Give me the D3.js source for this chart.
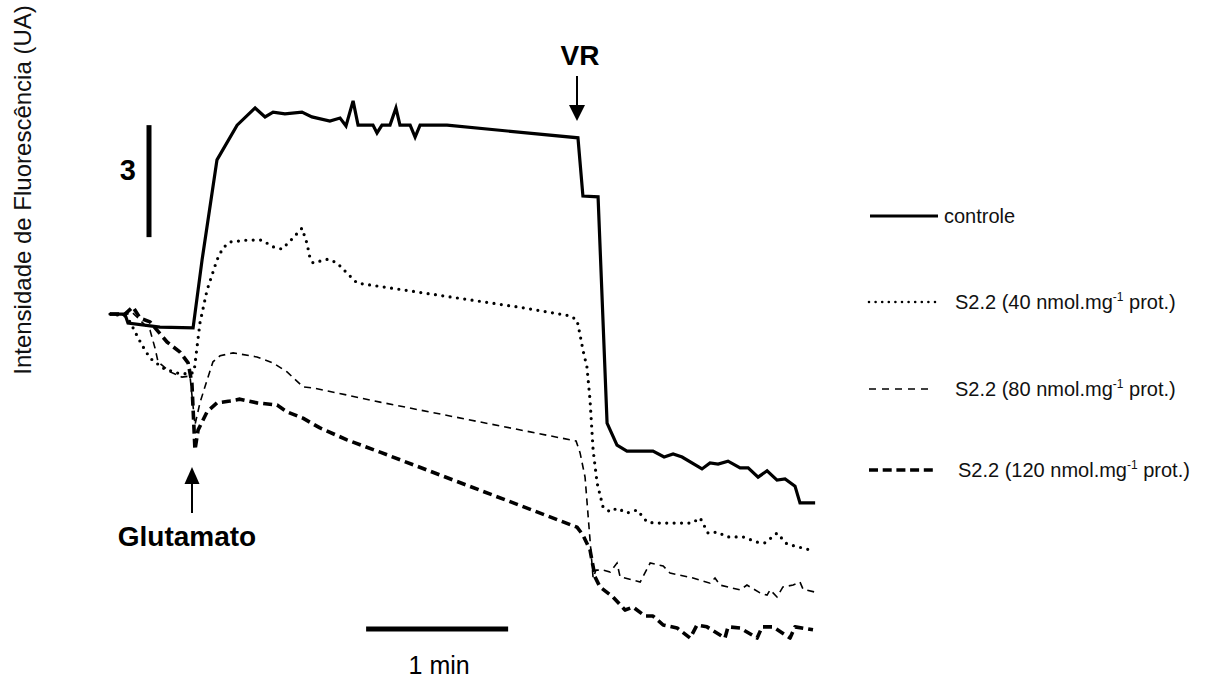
<!DOCTYPE html>
<html>
<head>
<meta charset="utf-8">
<script src="https://cdn.jsdelivr.net/npm/d3@7"></script>
<style>
  html, body { margin: 0; padding: 0; background: #fff; }
  svg { display: block; font-family: "Liberation Sans", Arial, sans-serif; }
</style>
</head>
<body>
<svg id="chart" width="1219" height="681"></svg>
<script>
// Time in seconds, fluorescence in arbitrary units (UA)
const controleT = [0, 6.3, 7.6, 21.1, 35.1, 38.9, 45.2, 53.7, 61.3, 65.5, 68.9, 73.9, 81.1, 85.3, 92.9, 97.2, 99.7, 102.7, 104.8, 111.1, 112.8, 114.9, 118.3, 120.8, 122.5, 126.8, 128.9, 131.0, 142.4, 197.7, 199.8, 206.2, 210.0, 214.2, 218.4, 229.4, 234.1, 237.9, 241.7, 250.1, 253.5, 256.9, 261.1, 266.2, 269.6, 273.8, 277.6, 281.8, 285.2, 289.4, 291.5, 297.9];
const controleV = [9.00, 9.00, 8.76, 8.65, 8.63, 10.45, 13.13, 14.06, 14.52, 14.28, 14.41, 14.36, 14.41, 14.28, 14.17, 14.25, 14.04, 14.71, 14.06, 14.06, 13.85, 14.06, 14.06, 14.52, 14.06, 14.06, 13.74, 14.06, 14.06, 13.72, 12.16, 12.14, 6.08, 5.49, 5.33, 5.33, 5.17, 5.25, 5.17, 4.85, 5.01, 4.98, 5.06, 4.88, 4.88, 4.63, 4.80, 4.55, 4.58, 4.39, 3.94, 3.94];

const s40T = [0, 6.3, 8.5, 10.6, 13.5, 16.9, 22.4, 28.3, 33.8, 35.5, 38.0, 41.0, 45.2, 47.7, 50.7, 57.9, 64.2, 68.9, 72.7, 76.9, 81.1, 83.2, 84.5, 85.8, 92.1, 95.9, 100.1, 104.4, 175.3, 194.4, 197.3, 198.6, 199.8, 201.5, 202.8, 204.1, 205.8, 208.3, 211.3, 214.2, 218.4, 222.7, 226.9, 230.3, 245.9, 249.3, 252.7, 256.5, 260.7, 267.4, 273.4, 276.7, 281.8, 286.0, 295.8];
const s40V = [9.00, 8.95, 8.79, 8.52, 8.17, 7.82, 7.55, 7.42, 7.39, 7.45, 8.76, 9.64, 10.45, 10.77, 10.93, 10.98, 10.98, 10.80, 10.74, 11.01, 11.30, 10.90, 10.50, 10.37, 10.47, 10.37, 10.10, 9.83, 9.16, 8.95, 8.84, 8.44, 8.04, 7.58, 6.70, 5.36, 4.47, 3.83, 3.70, 3.80, 3.67, 3.75, 3.43, 3.40, 3.40, 3.54, 3.13, 3.16, 3.03, 3.03, 2.89, 2.87, 3.13, 2.84, 2.68];

const s80T = [0, 6.3, 9.3, 16.9, 19.0, 20.3, 25.4, 30.4, 33.8, 35.9, 38.0, 41.0, 43.5, 46.5, 52.0, 62.1, 68.9, 74.8, 81.5, 85.8, 100.1, 114.1, 194.4, 196.9, 198.6, 200.7, 202.8, 204.1, 205.3, 208.3, 211.3, 214.2, 215.5, 224.0, 228.2, 233.7, 236.6, 246.3, 253.5, 255.6, 257.7, 266.2, 269.1, 274.6, 277.6, 278.9, 281.8, 284.3, 288.6, 291.5, 292.8, 297.9];
const s80V = [9.00, 8.97, 9.05, 8.57, 8.09, 7.72, 7.45, 7.31, 7.34, 6.03, 6.62, 7.23, 7.72, 7.88, 7.96, 7.85, 7.69, 7.45, 7.05, 7.02, 6.83, 6.64, 5.63, 5.60, 5.28, 4.63, 2.95, 1.93, 2.14, 2.14, 2.09, 2.33, 1.96, 1.82, 2.33, 2.25, 2.06, 1.93, 1.79, 1.93, 1.74, 1.61, 1.74, 1.53, 1.47, 1.61, 1.42, 1.69, 1.74, 1.82, 1.63, 1.55];

const s120T = [0, 6.3, 9.7, 12.7, 16.9, 24.1, 29.6, 33.0, 34.6, 35.9, 37.2, 41.0, 45.2, 50.7, 54.9, 62.1, 70.6, 74.8, 81.5, 88.7, 100.1, 114.1, 197.3, 199.8, 202.8, 204.9, 207.0, 212.5, 217.6, 221.0, 226.0, 229.4, 233.7, 239.6, 245.1, 248.0, 252.2, 259.8, 261.1, 266.2, 273.4, 275.5, 280.1, 287.3, 289.4, 297.0];
const s120V = [9.00, 9.00, 9.19, 8.89, 8.79, 8.25, 7.98, 7.69, 7.15, 5.36, 5.89, 6.38, 6.62, 6.67, 6.72, 6.62, 6.56, 6.38, 6.21, 5.95, 5.63, 5.30, 3.29, 3.08, 2.68, 1.96, 1.69, 1.42, 1.07, 1.15, 0.91, 0.91, 0.67, 0.59, 0.32, 0.67, 0.62, 0.32, 0.62, 0.59, 0.32, 0.62, 0.62, 0.32, 0.62, 0.54];

const seriesNames = ["controle", "S2.2 (40 nmol.mg", "S2.2 (80 nmol.mg", "S2.2 (120 nmol.mg"];
const yLabel = "Intensidade de Fluorescência (UA)";
const scaleBarUA = 3;      // vertical scale bar value
const scaleBarUAStart = 11.06;
const scaleBarSec = 60;    // 1 min
const scaleBarSecStart = 108.2;
const scaleBarSecLevel = 0.56;
const glutamatoT = 33.8;
const vrT = 197.3;

const svg = d3.select("#chart");
const x = d3.scaleLinear().domain([0, 300]).range([110, 110 + 300 * 2.367]);
const y = d3.scaleLinear().domain([0, 17]).range([650, 650 - 17 * 37.33]);

const zip = (t, v) => t.map((d, i) => [d, v[i]]);
const styles = [
  { w: 3.2, dash: null, cap: "butt", join: "miter" },
  { w: 3.2, dash: "0 7.4", cap: "round", join: "round" },
  { w: 1.6, dash: "7 5", cap: "butt", join: "miter" },
  { w: 3.6, dash: "9 5", cap: "butt", join: "round" }
];
const data = [zip(controleT, controleV), zip(s40T, s40V), zip(s80T, s80V), zip(s120T, s120V)];

const line = d3.line().x(d => x(d[0])).y(d => y(d[1]));

data.forEach((d, i) => {
  const s = styles[i];
  svg.append("path")
    .datum(d)
    .attr("d", line)
    .attr("fill", "none")
    .attr("stroke", "#000")
    .attr("stroke-width", s.w)
    .attr("stroke-linecap", s.cap)
    .attr("stroke-linejoin", s.join)
    .attr("stroke-dasharray", s.dash);
});

// Y label
svg.append("text")
  .attr("transform", "translate(31,190) rotate(-90)")
  .attr("text-anchor", "middle")
  .attr("font-size", 24)
  .attr("fill", "#111")
  .text(yLabel);

// vertical scale bar
const sbx = 149;
svg.append("line")
  .attr("x1", sbx).attr("x2", sbx)
  .attr("y1", y(scaleBarUAStart)).attr("y2", y(scaleBarUAStart + scaleBarUA))
  .attr("stroke", "#000").attr("stroke-width", 5);
svg.append("text")
  .attr("x", 136).attr("y", 180)
  .attr("text-anchor", "end")
  .attr("font-size", 29).attr("font-weight", "bold")
  .text(String(scaleBarUA));

// horizontal scale bar
svg.append("line")
  .attr("x1", x(scaleBarSecStart)).attr("x2", x(scaleBarSecStart + scaleBarSec))
  .attr("y1", y(scaleBarSecLevel)).attr("y2", y(scaleBarSecLevel))
  .attr("stroke", "#000").attr("stroke-width", 5);
svg.append("text")
  .attr("x", x(scaleBarSecStart + scaleBarSec / 2) + 2).attr("y", 674)
  .attr("text-anchor", "middle")
  .attr("font-size", 25)
  .text("1 min");

// arrows
function arrow(xc, tipY, headBaseY, tailY, hw) {
  svg.append("line")
    .attr("x1", xc).attr("x2", xc).attr("y1", tailY).attr("y2", headBaseY)
    .attr("stroke", "#000").attr("stroke-width", 2);
  svg.append("path")
    .attr("d", `M${xc},${tipY} L${xc - hw / 2},${headBaseY} L${xc + hw / 2},${headBaseY} Z`)
    .attr("fill", "#000");
}
const gx = x(glutamatoT) + 2;
arrow(gx, 467, 484, 513, 15);
svg.append("text")
  .attr("x", 187).attr("y", 546)
  .attr("text-anchor", "middle")
  .attr("font-size", 28).attr("font-weight", "bold")
  .text("Glutamato");

const vx = x(vrT);
arrow(vx, 121, 105, 76, 16);
svg.append("text")
  .attr("x", 580).attr("y", 65)
  .attr("text-anchor", "middle")
  .attr("font-size", 28).attr("font-weight", "bold")
  .text("VR");

// legend
const legend = [
  { x1: 870, x2: 938, y: 216, tx: 944 },
  { x1: 869, x2: 935, y: 302, tx: 955 },
  { x1: 869, x2: 930, y: 389, tx: 955 },
  { x1: 869, x2: 933, y: 470, tx: 958 }
];
const legDash = [null, "0 6.6", "7 6", "9 4.7"];
legend.forEach((l, i) => {
  const s = styles[i];
  svg.append("line")
    .attr("x1", l.x1).attr("x2", l.x2).attr("y1", l.y).attr("y2", l.y)
    .attr("stroke", "#000")
    .attr("stroke-width", i === 1 ? 2.6 : s.w)
    .attr("stroke-linecap", s.cap)
    .attr("stroke-dasharray", legDash[i]);
  const t = svg.append("text")
    .attr("x", l.tx).attr("y", l.y + 7)
    .attr("font-size", 20)
    .attr("fill", "#111");
  t.append("tspan").text(seriesNames[i]);
  if (i > 0) {
    t.append("tspan").attr("dy", -8).attr("font-size", 12).text("-1");
    t.append("tspan").attr("dy", 8).text(" prot.)");
  }
});
</script>
</body>
</html>
